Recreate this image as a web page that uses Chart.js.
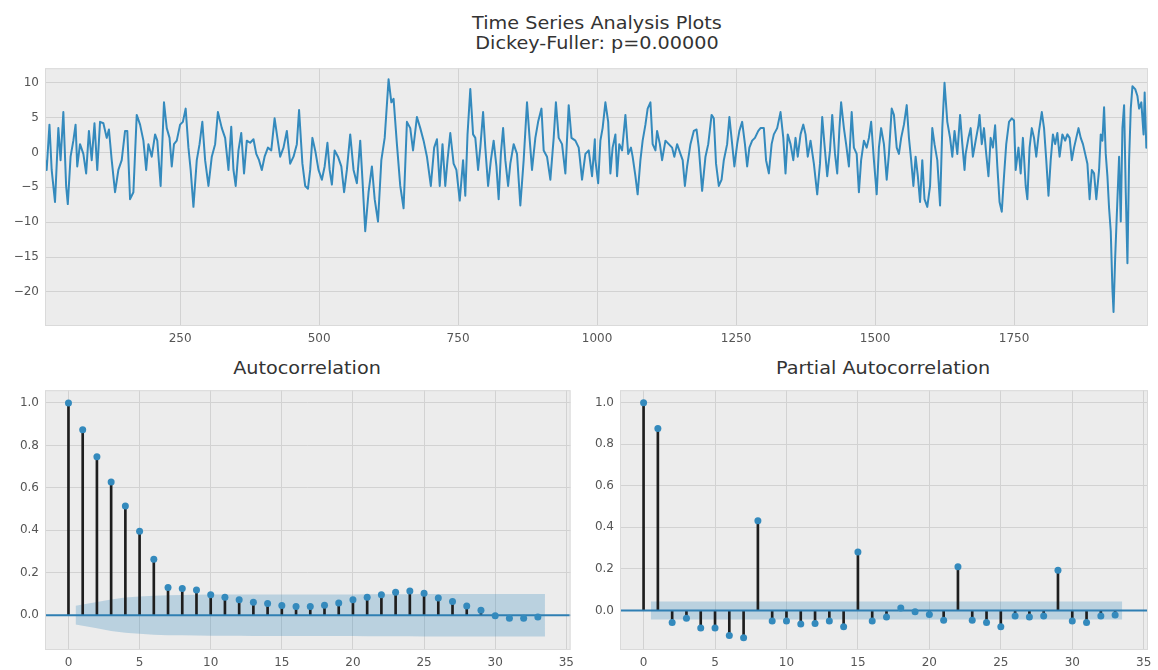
<!DOCTYPE html>
<html>
<head>
<meta charset="utf-8">
<script src="https://cdn.jsdelivr.net/npm/chart.js@4.4.1/dist/chart.umd.min.js"></script>
<style>
body{margin:0;background:#fff;width:1158px;height:670px;position:relative;overflow:hidden;font-family:"DejaVu Sans",sans-serif}
canvas{position:absolute}
.ttl{position:absolute;color:#333;font-size:17px;text-align:center;white-space:nowrap;transform:scaleX(1.13);transform-origin:center}
</style>
</head>
<body>
<div class="ttl" style="left:397px;top:13px;width:400px;line-height:20px">Time Series Analysis Plots<br>Dickey-Fuller: p=0.00000</div>
<div class="ttl" style="left:157px;top:358px;width:300px;line-height:20px">Autocorrelation</div>
<div class="ttl" style="left:733px;top:358px;width:300px;line-height:20px">Partial Autocorrelation</div>
<canvas id="tsChart" width="1158" height="290" style="left:0;top:55px"></canvas>
<canvas id="acfChart" width="580" height="293" style="left:0;top:377px"></canvas>
<canvas id="pacfChart" width="583" height="293" style="left:575px;top:377px"></canvas>
<script>
// series (peaks/troughs of the plotted line)
const tsIndex=[7,10,15,19,25,31,35,40,45,48,53,58,62,65,70,76,81,86,91,96,101,106,112,118,122,127,133,139,145,151,155,160,166,172,178,184,189,193,199,205,209,215,221,226,231,235,239,244,250,255,260,265,269,274,280,285,290,295,301,307,313,318,325,331,
337,342,346,350,355,360,365,370,376,382,387,392,397,402,408,414,420,425,430,436,442,448,454,460,464,470,475,480,484,488,493,499,505,510,515,519,523,528,534,540,545,550,556,562,568,574,578,583,589,595,600,606,612,618,625,630,634,640,646,652,658,664,
669,676,682,688,694,701,707,712,717,722,727,731,736,742,747,753,759,763,767,772,777,781,786,790,795,799,804,809,814,819,823,827,831,835,840,844,850,856,862,868,874,879,883,889,894,900,904,910,916,922,926,931,937,943,949,954,961,967,973,979,985,991,996,
997,1002,1006,1010,1015,1020,1024,1028,1033,1036,1040,1045,1051,1056,1061,1064,1069,1073,1078,1082,1087,1091,1096,1100,1105,1108,1113,1117,1123,1129,1135,1139,1144,1150,1154,1158,1162,1168,1174,1179,1183,1189,1195,1200,1206,1210,1214,1219,1224,1228,1234,1238,1243,1247,1252,1256,1261,1266,1270,1274,1279,1284,1290,1294,1300,1304,1309,1314,1318,1324,1330,
1335,1339,1343,1348,1353,1357,1361,1366,1371,1375,1379,1384,1390,1396,1401,1405,1409,1414,1419,1423,1428,1432,1436,1439,1444,1448,1453,1458,1462,1467,1471,1475,1480,1485,1489,1493,1498,1503,1507,1511,1516,1521,1525,1530,1534,1539,1543,1547,1552,1557,1561,1565,1569,1573,1577,1581,1585,1589,1594,1599,1603,1607,1612,1617,1621,1625,1630,1635,1639,1643,1648,1653,1657,1661,
1663,1668,1672,1676,1681,1686,1688,1692,1696,1700,1704,1708,1712,1716,1720,1724,1728,1732,1736,1741,1746,1750,1753,1758,1762,1766,1771,1774,1778,1782,1786,1790,1795,1800,1804,1808,1812,1816,1820,1824,1828,1832,1837,1842,1846,1850,1854,1858,1862,1866,1870,1874,1878,1882,1886,1890,1894,1898,1903,1906,1909,1912,1915,1918,1921,1924,1927,1929,1932,1936,1939,1942,1945,1948,1951,1954,1957,1960,1963,1968,1972,1975,1979,1983,1985,1988,1991];
const tsValues=[-1.0,-2.5,4.0,-2.5,-7.1,3.5,-1.1,5.8,-4.8,-7.4,-0.6,1.7,4.0,-2.0,1.2,-0.2,-3.0,3.1,-1.1,4.2,-2.5,4.4,4.2,2.1,3.3,-1.1,-5.7,-2.5,-1.1,3.1,3.1,-6.7,-5.7,5.4,4.0,1.7,-2.5,1.2,-0.6,2.6,1.7,-4.8,7.2,3.5,2.1,-2.0,1.2,1.7,4.0,4.4,6.3,0.7,-2.5,-7.8,-1.1,1.2,4.4,-1.1,-4.8,-0.6,1.2,5.8,3.5,2.1,
-2.5,3.7,-2.5,-4.8,0.3,2.8,-3.0,1.7,1.4,1.9,-0.2,-1.1,-2.5,-0.6,0.7,0.3,4.9,2.1,-0.6,0.7,3.1,-1.6,-0.6,1.2,6.1,-1.6,-4.8,-5.2,-2.5,2.1,0.3,-2.5,-3.9,-2.0,1.4,-2.5,-4.6,0.3,-0.6,-2.0,-5.7,-2.5,2.6,-2.5,-4.4,1.7,-3.9,-11.3,-5.7,-2.0,-6.7,-9.9,-1.1,2.1,10.5,7.2,7.7,1.2,-4.8,-8.0,4.4,3.5,
0.3,5.1,3.5,1.7,-0.6,-4.8,0.7,1.9,-4.8,1.2,-4.8,-1.1,2.8,-1.6,-2.5,-6.9,-1.1,-6.2,2.6,9.1,2.6,2.1,-2.5,0.7,5.8,0.7,-4.8,-1.1,1.7,-2.0,-6.7,-0.2,3.5,-1.1,-4.8,-1.6,1.2,-0.2,-7.6,-1.1,7.2,1.7,-2.5,2.1,4.4,6.3,0.3,-0.6,-3.9,2.1,7.2,2.1,1.2,-3.0,6.8,2.1,1.7,0.7,-3.9,-0.2,0.3,-3.4,1.9,
-1.1,-4.4,1.7,3.5,7.2,4.4,-3.0,0.7,2.6,-3.4,1.2,0.3,5.4,-0.2,0.7,-0.6,-3.4,-6.0,-1.1,1.7,4.0,6.3,7.2,1.2,0.3,3.1,1.2,-1.1,1.7,1.2,0.7,-0.6,1.2,-0.2,-1.1,-4.8,-2.0,1.2,3.1,3.3,0.7,-5.5,-0.6,1.2,5.4,4.9,-1.6,-4.8,-3.9,-1.1,1.2,5.1,1.2,-2.0,1.2,3.1,4.4,1.2,-2.0,0.7,1.7,2.1,3.1,3.5,3.5,-1.1,-3.0,1.2,2.6,3.5,5.8,
2.1,-3.0,2.6,1.2,-1.1,2.1,-0.6,2.6,4.0,2.6,-0.6,1.7,-1.6,-6.0,-1.6,5.1,1.2,-3.4,0.3,5.4,-0.2,-3.0,3.5,7.2,3.5,1.2,-2.0,5.8,0.7,-0.2,-5.7,-1.1,1.7,0.7,2.1,4.4,-1.1,-6.0,0.7,3.5,1.2,-3.9,-0.2,6.3,5.4,0.7,-0.2,2.1,4.0,6.8,2.1,-1.1,-4.8,-0.6,-3.4,-7.1,-1.1,-6.7,-7.8,-4.8,3.5,1.2,-1.1,-7.6,3.5,10.0,4.4,2.1,-0.6,3.1,-0.2,5.4,1.2,-2.5,
-0.2,2.1,3.5,-0.6,1.7,3.9,5.4,1.2,3.5,-0.2,-3.4,2.1,0.7,3.9,-2.0,-7.1,-8.5,-3.4,1.2,4.4,4.9,4.6,-2.5,0.7,-3.0,2.1,-4.8,-6.7,0.7,3.5,2.1,-0.6,3.1,5.8,3.5,-1.1,-6.2,-1.1,2.6,1.2,2.8,-0.6,2.6,1.7,2.6,2.1,-1.1,0.7,2.1,3.5,2.1,1.2,-0.2,-1.6,-6.7,-2.5,-3.0,-6.7,-2.5,2.6,1.7,6.5,-0.2,-3.4,-8.0,-11.3,-19.6,-22.9,-15.0,-6.7,-0.6,-9.9,3.5,6.8,-5.7,-15.9,-1.1,6.3,9.5,9.1,8.1,6.3,7.2,2.6,8.6,0.7,1.2];
const tsTicksX=[250,500,750,1000,1250,1500,1750];
const tsTicksY=[-20,-15,-10,-5,0,5,10];

const lags=[0,1,2,3,4,5,6,7,8,9,10,11,12,13,14,15,16,17,18,19,20,21,22,23,24,25,26,27,28,29,30,31,32,33];
const acfValues=[1.0,0.874,0.746,0.628,0.514,0.395,0.263,0.131,0.126,0.119,0.096,0.084,0.073,0.061,0.055,0.046,0.041,0.041,0.047,0.058,0.073,0.085,0.096,0.108,0.114,0.103,0.081,0.065,0.043,0.023,-0.003,-0.014,-0.014,-0.008];
// half width of the shaded confidence band, lags 1..33
const acfConf=[0.044,0.062,0.074,0.083,0.088,0.092,0.094,0.095,0.096,0.097,0.097,0.097,0.098,0.098,0.098,0.098,0.098,0.098,0.098,0.098,0.099,0.099,0.099,0.099,0.1,0.1,0.1,0.1,0.1,0.1,0.1,0.1,0.1];
const pacfValues=[1.0,0.876,-0.058,-0.037,-0.084,-0.084,-0.12,-0.131,0.432,-0.05,-0.05,-0.065,-0.062,-0.05,-0.078,0.281,-0.05,-0.031,0.012,-0.006,-0.019,-0.047,0.211,-0.047,-0.058,-0.078,-0.026,-0.031,-0.026,0.194,-0.05,-0.058,-0.026,-0.022];
const pacfConf=[0.043,0.043,0.043,0.043,0.043,0.043,0.043,0.043,0.043,0.043,0.043,0.043,0.043,0.043,0.043,0.043,0.043,0.043,0.043,0.043,0.043,0.043,0.043,0.043,0.043,0.043,0.043,0.043,0.043,0.043,0.043,0.043,0.043];
const corrTicksX=[0,5,10,15,20,25,30,35];
const corrTicksY=[0,0.2,0.4,0.6,0.8,1.0];

const C0='#348ABD';
const tickFont={family:'"DejaVu Sans", sans-serif',size:12};

// grey plot background + thin frame, like matplotlib bmh
const plotBg={id:'plotBg',
beforeDraw(c){const a=c.chartArea,x=c.ctx;x.save();x.fillStyle='#ececec';x.fillRect(a.left,a.top,a.right-a.left,a.bottom-a.top);x.restore();},
afterDraw(c){const a=c.chartArea,x=c.ctx;x.save();x.strokeStyle='#dadada';x.lineWidth=1;x.strokeRect(a.left+0.5,a.top+0.5,a.right-a.left-1,a.bottom-a.top-1);x.restore();}
};

function axis(min,max,ticks,fmt,fit){
return{type:'linear',min,max,offset:false,
afterBuildTicks:s=>{s.ticks=ticks.map(v=>({value:v}));},
afterFit:fit,
border:{display:false},
grid:{color:'#d2d2d2',lineWidth:1,drawTicks:false,offset:false},
ticks:{font:tickFont,color:'#555',padding:6,autoSkip:false,maxRotation:0,callback:fmt}};
}
const minus=v=>(v<0?'\u2212'+Math.abs(v):''+v);

new Chart(document.getElementById('tsChart'),{
type:'line',
data:{datasets:[{data:tsIndex.map((x,i)=>({x,y:tsValues[i]})),borderColor:C0,borderWidth:2,pointRadius:0,tension:0,borderJoinStyle:'round'}]},
options:{responsive:false,animation:false,layout:{padding:{top:5,right:10,left:0,bottom:0}},
plugins:{legend:{display:false},tooltip:{enabled:false}},
scales:{x:axis(7,1991,tsTicksX,v=>''+v,s=>{s.height=19;}),
y:axis(-24.9,12.1,tsTicksY,minus,s=>{s.width=45;})}},
plugins:[plotBg]
});

function corrChart(id,values,conf,ymin,rightPad){
const bandX=lags.slice(1).map((l,i,a)=>i===0?l-0.5:(i===a.length-1?l+0.5:l));
new Chart(document.getElementById(id),{
type:'line',
data:{datasets:[
{data:bandX.map((x,i)=>({x,y:conf[i]})),borderWidth:0,pointRadius:0,fill:false,order:10},
{data:bandX.map((x,i)=>({x,y:-conf[i]})),borderWidth:0,pointRadius:0,fill:'-1',backgroundColor:'rgba(52,138,189,0.27)',order:9},
{type:'bar',data:lags.map((x,i)=>({x,y:values[i]})),backgroundColor:'#1e1e1e',barThickness:2,order:5},
{data:[{x:-1.65,y:0},{x:35.3,y:0}],borderColor:'#2f7fb3',borderWidth:2,pointRadius:0,order:3},
{data:lags.map((x,i)=>({x,y:values[i]})),showLine:false,pointRadius:3.5,pointBackgroundColor:C0,pointBorderColor:C0,pointBorderWidth:0,order:1}
]},
options:{responsive:false,animation:false,layout:{padding:{top:5,right:rightPad,left:0,bottom:0}},
plugins:{legend:{display:false},tooltip:{enabled:false}},
scales:{x:axis(-1.65,35.3,corrTicksX,v=>''+v,s=>{s.height=20;}),
y:axis(ymin,1.06,corrTicksY,v=>v.toFixed(1),s=>{s.width=45;})}},
plugins:[plotBg]
});
}
corrChart('acfChart',acfValues,acfConf,-0.164,7);
corrChart('pacfChart',pacfValues,pacfConf,-0.19,10);
</script>
</body>
</html>
